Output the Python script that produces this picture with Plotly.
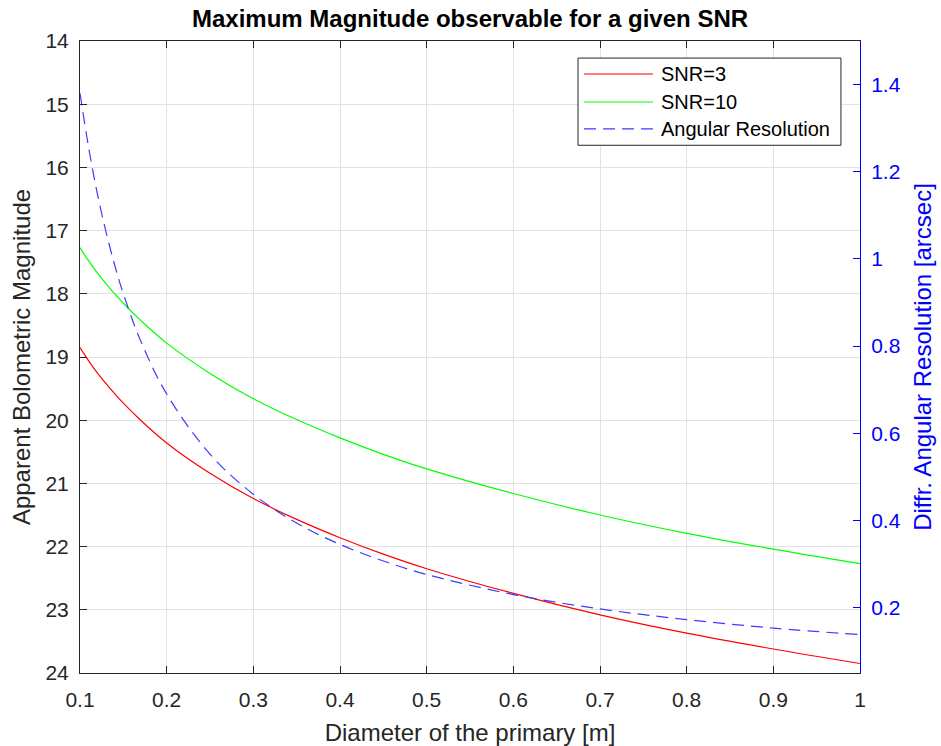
import plotly.graph_objects as go

diameter = [0.10, 0.11, 0.12, 0.13, 0.14, 0.15, 0.17, 0.20, 0.25, 0.30, 0.35,
            0.40, 0.45, 0.50, 0.60, 0.70, 0.80, 0.90, 1.00]
mag_snr3 = [18.85, 19.06, 19.25, 19.42, 19.58, 19.73, 20.00, 20.36, 20.84, 21.24,
            21.57, 21.86, 22.12, 22.35, 22.74, 23.08, 23.37, 23.62, 23.85]
mag_snr10 = [17.27, 17.48, 17.67, 17.84, 18.00, 18.15, 18.42, 18.78, 19.26, 19.66,
             19.99, 20.28, 20.54, 20.77, 21.16, 21.50, 21.79, 22.04, 22.27]
ang_res = [1.380, 1.255, 1.150, 1.062, 0.986, 0.920, 0.812, 0.690, 0.552, 0.460,
           0.394, 0.345, 0.307, 0.276, 0.230, 0.197, 0.1725, 0.153, 0.138]

series_names = ["SNR=3", "SNR=10", "Angular Resolution"]
x_ticks = [0.1, 0.2, 0.3, 0.4, 0.5, 0.6, 0.7, 0.8, 0.9, 1.0]
x_tick_labels = ["0.1", "0.2", "0.3", "0.4", "0.5", "0.6", "0.7", "0.8", "0.9", "1"]
y_ticks = [14, 15, 16, 17, 18, 19, 20, 21, 22, 23, 24]
y2_ticks = [0.2, 0.4, 0.6, 0.8, 1.0, 1.2, 1.4]
y2_tick_labels = ["0.2", "0.4", "0.6", "0.8", "1", "1.2", "1.4"]

FONT = "Liberation Sans, Arial, Helvetica, sans-serif"
BLUE = "#0000ff"
RED = "#ff0000"
GREEN = "#00ff00"
DASHBLUE = "#3c3cff"
DASH = "12px,7px"
DARK = "#262626"

fig = go.Figure()
fig.add_trace(go.Scatter(x=diameter, y=mag_snr3, name=series_names[0], mode="lines",
                         line=dict(color=RED, width=1.2, shape="spline")))
fig.add_trace(go.Scatter(x=diameter, y=mag_snr10, name=series_names[1], mode="lines",
                         line=dict(color=GREEN, width=1.2, shape="spline")))
fig.add_trace(go.Scatter(x=diameter, y=ang_res, name=series_names[2], mode="lines",
                         yaxis="y2",
                         line=dict(color=DASHBLUE, width=1.2, dash=DASH, shape="spline")))

# Manual legend (MATLAB style with long line samples)
leg_x0, leg_x1, leg_y0, leg_y1 = 0.6385, 0.9756, 0.835, 0.973
line_x0, line_x1, text_x = 0.6462, 0.7346, 0.7423
row_y = [0.9478, 0.9035, 0.8608]
row_style = [dict(color=RED, width=1.2), dict(color=GREEN, width=1.2),
             dict(color=DASHBLUE, width=1.2, dash=DASH)]

shapes = [dict(type="rect", xref="paper", yref="paper", x0=leg_x0, x1=leg_x1,
               y0=leg_y0, y1=leg_y1, fillcolor="white", line=dict(color=DARK, width=1),
               layer="above")]
annotations = []
for name, yy, st in zip(series_names, row_y, row_style):
    shapes.append(dict(type="line", xref="paper", yref="paper", x0=line_x0, x1=line_x1,
                       y0=yy, y1=yy, line=st, layer="above"))
    annotations.append(dict(text=name, xref="paper", yref="paper", x=text_x, y=yy,
                            xanchor="left", yanchor="middle", showarrow=False,
                            font=dict(size=20, color="black", family=FONT)))

fig.update_layout(
    width=941, height=746,
    margin=dict(l=80, r=81, t=41, b=73),
    paper_bgcolor="white", plot_bgcolor="white",
    font=dict(family=FONT, size=21, color=DARK),
    showlegend=False,
    shapes=shapes,
    annotations=annotations,
    title=dict(text="<b>Maximum Magnitude observable for a given SNR</b>",
               x=(80 + 860) / 2 / 941, xanchor="center", y=1 - 19 / 746, yanchor="middle",
               font=dict(size=24, color="black")),
    xaxis=dict(range=[0.1, 1.0], tickvals=x_ticks, ticktext=x_tick_labels,
               showgrid=True, gridcolor="#e2e2e2", gridwidth=1, automargin=False,
               ticks="inside", ticklen=7, tickcolor=DARK, ticklabelstandoff=8,
               showline=True, linecolor=DARK, linewidth=1, mirror="ticks",
               zeroline=False,
               title=dict(text="Diameter of the primary [m]", font=dict(size=24), standoff=16)),
    yaxis=dict(range=[24, 14], tickvals=y_ticks, automargin=False,
               showgrid=True, gridcolor="#e2e2e2", gridwidth=1,
               ticks="inside", ticklen=7, tickcolor=DARK, ticklabelstandoff=6,
               showline=True, linecolor=DARK, linewidth=1, mirror=True,
               zeroline=False,
               title=dict(text="Apparent Bolometric Magnitude", font=dict(size=24), standoff=8)),
    yaxis2=dict(range=[0.05, 1.5], tickvals=y2_ticks, ticktext=y2_tick_labels,
                overlaying="y", side="right", showgrid=False, automargin=False,
                ticks="inside", ticklen=7, tickcolor=BLUE, ticklabelstandoff=6,
                showline=True, linecolor=BLUE, linewidth=1,
                zeroline=False, tickfont=dict(color=BLUE),
                title=dict(text="Diffr. Angular Resolution [arcsec]",
                           font=dict(size=24, color=BLUE), standoff=14)),
)

fig.write_html("out.html")
